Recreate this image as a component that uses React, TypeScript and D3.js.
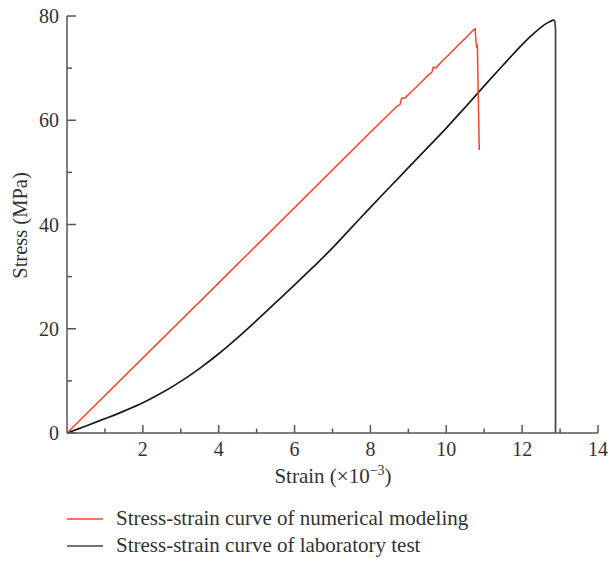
import React, { useEffect, useRef } from "react";
import * as d3 from "d3";

// Strain (×10⁻³) and stress (MPa) of the numerical model
const numStrain = [0, 4, 8, 8.7, 8.78, 8.82, 8.9, 9.1, 9.3, 9.5, 9.62, 9.66, 9.72, 9.9, 10.1, 10.3, 10.5, 10.7, 10.76, 10.78, 10.8, 10.82, 10.84, 10.87];
const numStress = [0, 28.8, 57.7, 62.7, 63.0, 64.2, 64.2, 65.6, 67.0, 68.5, 69.2, 70.2, 70.0, 71.4, 72.8, 74.3, 75.7, 77.2, 77.6, 75.5, 74.0, 74.4, 66.0, 54.3];

// Strain (×10⁻³) and stress (MPa) of the laboratory test: loading branch, then failure
const labStrain = [0, 0.5, 1, 1.5, 2, 2.5, 3, 3.5, 4, 4.5, 5, 5.5, 6, 6.5, 7, 7.5, 8, 8.5, 9, 9.5, 10, 10.5, 11, 11.5, 12, 12.3, 12.6, 12.75, 12.82, 12.86];
const labStress = [0, 1.35, 2.75, 4.2, 5.8, 7.7, 9.9, 12.4, 15.2, 18.3, 21.6, 25.0, 28.4, 31.9, 35.5, 39.4, 43.3, 47.1, 50.9, 54.7, 58.5, 62.5, 66.6, 70.6, 74.5, 76.6, 78.4, 79.0, 79.2, 79.1];
const failStrain = [12.86, 12.88, 12.88];
const failStress = [79.1, 77.5, 0];

const xMajor = [2, 4, 6, 8, 10, 12, 14];
const xMinor = [1, 3, 5, 7, 9, 11, 13];
const yMajor = [0, 20, 40, 60, 80];
const yMinor = [10, 30, 50, 70];

const seriesNames = [
  "Stress-strain curve of numerical modeling",
  "Stress-strain curve of laboratory test",
];
const seriesColors = ["#f2452c", "#1a1a1a"];

export default function App() {
  const ref = useRef<SVGSVGElement>(null);

  useEffect(() => {
    const svg = d3.select(ref.current);
    svg.selectAll("*").remove();

    const left = 67, right = 598, top = 16, bottom = 433;
    const x = d3.scaleLinear().domain([0, 14]).range([left, right]);
    const y = d3.scaleLinear().domain([0, 80]).range([bottom, top]);
    const font = "'Liberation Serif', 'Times New Roman', serif";
    const axisColor = "#555";
    const textColor = "#333";

    const smooth = d3
      .line<[number, number]>()
      .x((d) => x(d[0]))
      .y((d) => y(d[1]))
      .curve(d3.curveCatmullRom);
    const straight = d3
      .line<[number, number]>()
      .x((d) => x(d[0]))
      .y((d) => y(d[1]));

    const lab: [number, number][] = labStrain.map((s, i) => [s, labStress[i]]);
    const fail: [number, number][] = failStrain.map((s, i) => [s, failStress[i]]);
    const num: [number, number][] = numStrain.map((s, i) => [s, numStress[i]]);

    svg
      .append("path")
      .attr("d", smooth(lab))
      .attr("fill", "none")
      .attr("stroke", seriesColors[1])
      .attr("stroke-width", 1.7);
    svg
      .append("path")
      .attr("d", straight(fail))
      .attr("fill", "none")
      .attr("stroke", "#444")
      .attr("stroke-width", 1.7)
      .attr("stroke-linejoin", "round");

    svg
      .append("path")
      .attr("d", straight(num))
      .attr("fill", "none")
      .attr("stroke", seriesColors[0])
      .attr("stroke-width", 1.5)
      .attr("stroke-linejoin", "round");

    // Axis lines
    const g = svg.append("g").attr("stroke", axisColor).attr("stroke-width", 1.5);
    g.append("line").attr("x1", left).attr("x2", left).attr("y1", top).attr("y2", bottom);
    g.append("line").attr("x1", left).attr("x2", right).attr("y1", bottom).attr("y2", bottom);

    // Inward ticks
    xMajor.forEach((v) =>
      g.append("line").attr("x1", x(v)).attr("x2", x(v)).attr("y1", bottom).attr("y2", bottom - 8)
    );
    xMinor.forEach((v) =>
      g.append("line").attr("x1", x(v)).attr("x2", x(v)).attr("y1", bottom).attr("y2", bottom - 4.5)
    );
    yMajor.forEach((v) =>
      g.append("line").attr("x1", left).attr("x2", left + 9).attr("y1", y(v)).attr("y2", y(v))
    );
    yMinor.forEach((v) =>
      g.append("line").attr("x1", left).attr("x2", left + 5).attr("y1", y(v)).attr("y2", y(v))
    );

    // Tick labels
    xMajor.forEach((v) =>
      svg
        .append("text")
        .attr("x", x(v))
        .attr("y", bottom + 23)
        .attr("text-anchor", "middle")
        .attr("font-family", font)
        .attr("font-size", 20)
        .attr("fill", textColor)
        .text(String(v))
    );
    yMajor.forEach((v) =>
      svg
        .append("text")
        .attr("x", left - 8)
        .attr("y", y(v) + 7)
        .attr("text-anchor", "end")
        .attr("font-family", font)
        .attr("font-size", 20)
        .attr("fill", textColor)
        .text(String(v))
    );

    // Axis titles
    const xt = svg
      .append("text")
      .attr("x", 333)
      .attr("y", 483)
      .attr("text-anchor", "middle")
      .attr("font-family", font)
      .attr("font-size", 21)
      .attr("fill", textColor);
    xt.append("tspan").text("Strain (×10");
    xt.append("tspan").attr("dy", -8).attr("font-size", 14).text("−3");
    xt.append("tspan").attr("dy", 8).text(")");

    svg
      .append("text")
      .attr("transform", `translate(27,${(top + bottom) / 2 + 1}) rotate(-90)`)
      .attr("text-anchor", "middle")
      .attr("font-family", font)
      .attr("font-size", 20.5)
      .attr("fill", textColor)
      .text("Stress (MPa)");

    // Legend
    seriesNames.forEach((name, i) => {
      const ly = 519 + i * 27;
      svg
        .append("line")
        .attr("x1", 67)
        .attr("x2", 103)
        .attr("y1", ly)
        .attr("y2", ly)
        .attr("stroke", i === 0 ? seriesColors[0] : "#444")
        .attr("stroke-width", 1.5);
      svg
        .append("text")
        .attr("x", 116)
        .attr("y", ly + 6)
        .attr("font-family", font)
        .attr("font-size", 21)
        .attr("fill", textColor)
        .text(name);
    });
  }, []);

  return (
    <svg
      ref={ref}
      width={610}
      height={561}
      style={{ position: "absolute", left: 0, top: 0, background: "#fff" }}
    />
  );
}
